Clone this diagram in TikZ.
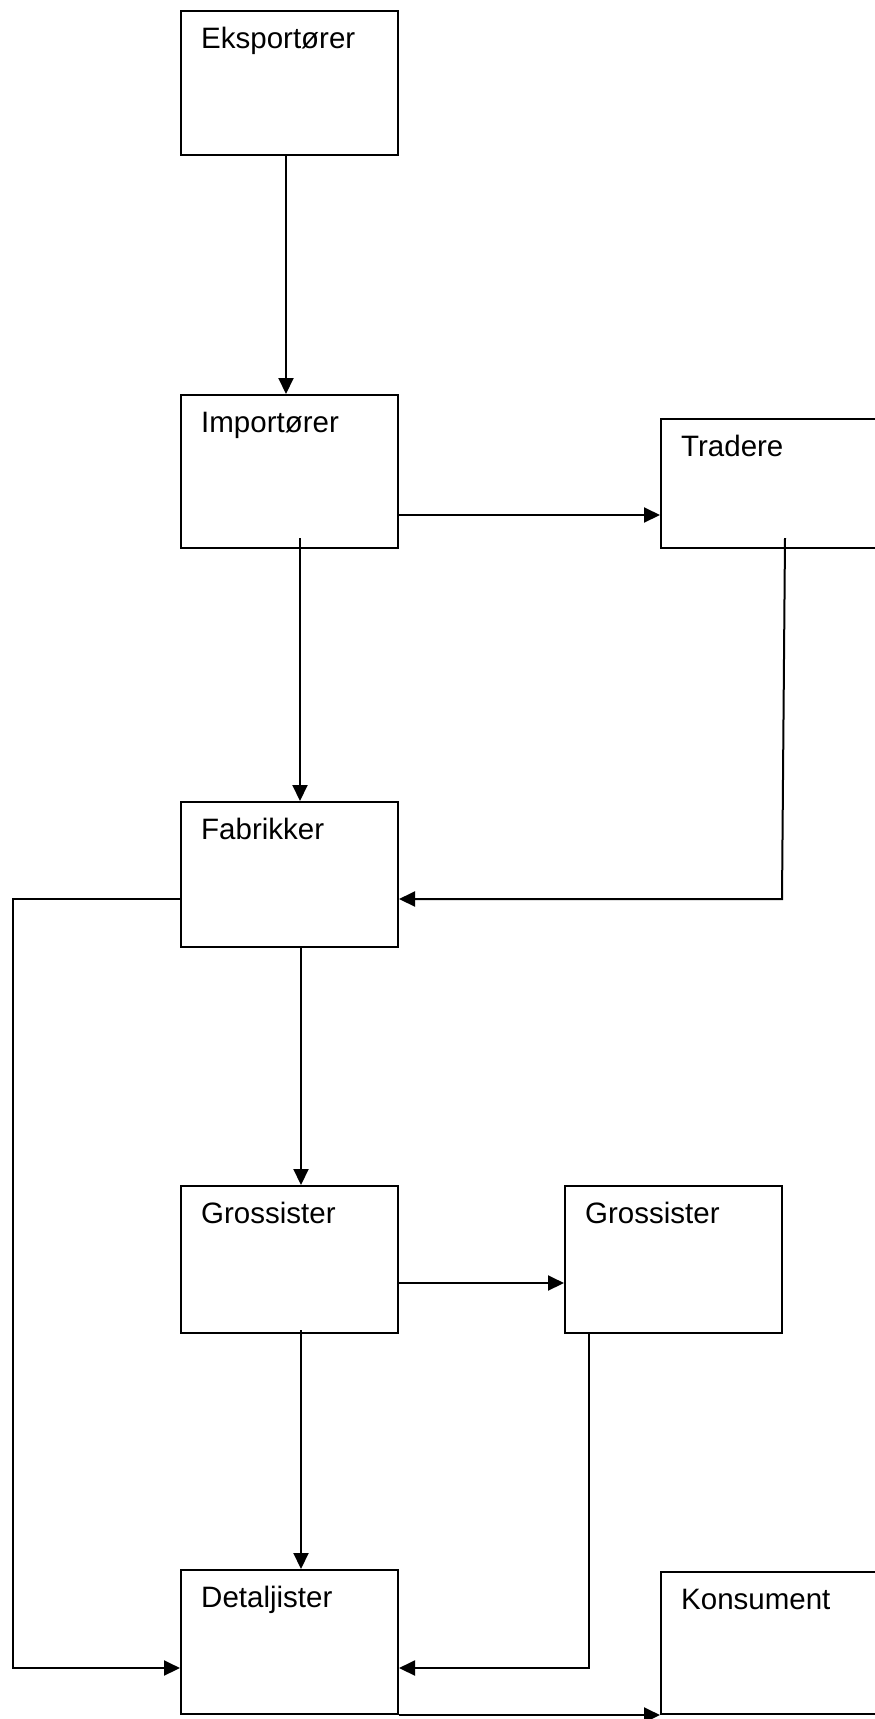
\documentclass[tikz,border=0pt]{standalone}
\usepackage{fontspec}
\setmainfont{Liberation Sans}
\usetikzlibrary{arrows.meta,calc}
\begin{document}
\begin{tikzpicture}[x=1pt,y=-1pt,
  box/.style={draw=black,line width=2pt,rectangle,inner sep=0pt,minimum width=217pt},
  lbl/.style={anchor=base west,inner sep=0pt,font=\fontsize{29.5}{35}\selectfont},
  arr/.style={line width=2pt,-{Triangle[length=16pt,width=15pt]}},
  ln/.style={line width=2pt}]
\useasboundingbox (0,0) rectangle (875,1719);
% boxes
\node[box,minimum height=144pt] (eks) at (289.5,83) {};
\node[box,minimum height=153pt] (imp) at (289.5,471.5) {};
\node[box,minimum height=129pt] (trad) at (769.5,483.5) {};
\node[box,minimum height=145pt] (fab) at (289.5,874.5) {};
\node[box,minimum height=147pt] (g1) at (289.5,1259.5) {};
\node[box,minimum height=147pt] (g2) at (673.5,1259.5) {};
\node[box,minimum height=144pt] (det) at (289.5,1642) {};
\node[box,minimum height=142pt] (kon) at (769.5,1643) {};
% labels
\node[lbl] (teks) at ($(eks.north west)+(21,38)$) {Eksportører};
\node[lbl] (timp) at ($(imp.north west)+(21,38)$) {Importører};
\node[lbl] (ttrad) at ($(trad.north west)+(21,38)$) {Tradere};
\node[lbl] (tfab) at ($(fab.north west)+(21,38)$) {Fabrikker};
\node[lbl] (tg1) at ($(g1.north west)+(21,38)$) {Grossister};
\node[lbl] (tg2) at ($(g2.north west)+(21,38)$) {Grossister};
\node[lbl] (tdet) at ($(det.north west)+(21,38)$) {Detaljister};
\node[lbl] (tkon) at ($(kon.north west)+(21,38)$) {Konsument};
% helper coordinates
\coordinate (xa) at (286,0);
\coordinate (s1) at (300,538);
\coordinate (ya) at (0,515);
\coordinate (t1) at (785,538);
\coordinate (t2) at (782,899);
\coordinate (f1) at (13,899);
\coordinate (f2) at (13,1668);
\coordinate (xb) at (301,0);
\coordinate (yb) at (0,1283);
\coordinate (s2) at (301,1330);
\coordinate (xc) at (589,0);
\coordinate (g2b) at (589,1668);
% connectors
\draw[arr] (eks.south -| xa) -- (imp.north -| xa);
\draw[arr] (imp.east |- ya) -- (trad.west |- ya);
\draw[arr] (s1) -- (fab.north -| s1);
\draw[arr] (t1) -- (t2) -- (fab.east |- t2);
\draw[arr] (fab.west |- f1) -- (f1) -- (f2) -- (det.west |- f2);
\draw[arr] (fab.south -| xb) -- (g1.north -| xb);
\draw[arr] (g1.east |- yb) -- (g2.west |- yb);
\draw[arr] (s2) -- (det.north -| s2);
\draw[arr] (g2.south -| xc) -- (g2b) -- (det.east |- g2b);
\draw[arr] (det.south east) -- (kon.south west);
\end{tikzpicture}
\end{document}
